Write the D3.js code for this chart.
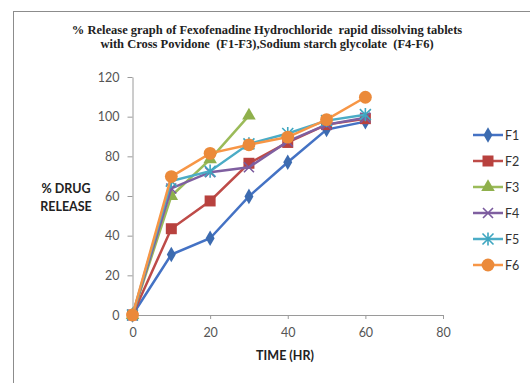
<!DOCTYPE html>
<html>
<head>
<meta charset="utf-8">
<script src="https://cdn.jsdelivr.net/npm/d3@7"></script>
<style>
  body { margin: 0; background: #fff; }
  svg { display: block; }
</style>
</head>
<body>
<div id="chart"></div>
<script>
// time points (hr)
const times = [0, 10, 20, 30, 40, 50, 60];
const seriesNames = ["F1", "F2", "F3", "F4", "F5", "F6"];
const f1 = [0, 30.5, 38.7, 59.8, 77, 93.5, 97.5];
const f2 = [0, 43.5, 57.5, 76.5, 87, 96, 99];
const f3 = [0, 60, 78.5, 100.5];
const f4 = [0, 63.8, 72, 74.5, 87.5, 96, 99.5];
const f5 = [0, 67.5, 72.5, 86.3, 91.5, 98, 101];
const f6 = [0, 69.8, 81.5, 85.8, 89.7, 98.5, 109.8];
const colors = ["#4472c4", "#be4b48", "#9bbb59", "#7f5fa0", "#4bacc6", "#f79646"];
const colorsDark = ["#3c6bb0", "#b8413e", "#8fb04c", "#7a5a9e", "#3ea6c0", "#eb8a3a"];
const symbols = ["diamond", "square", "triangle", "x", "star", "circle"];
const xTicks = [0, 20, 40, 60, 80];
const yTicks = [0, 20, 40, 60, 80, 100, 120];

const allValues = [f1, f2, f3, f4, f5, f6];

const width = 530, height = 383;
const svg = d3.select("#chart").append("svg")
    .attr("width", width)
    .attr("height", height);

// outer chart frame (runs off the right/bottom edge)
svg.append("rect")
    .attr("x", 13.5).attr("y", 11.5)
    .attr("width", 530).attr("height", 400)
    .attr("fill", "none")
    .attr("stroke", "#8c8c8c")
    .attr("stroke-width", 1);

// title
const title = svg.append("text")
    .attr("text-anchor", "middle")
    .attr("xml:space", "preserve")
    .style("white-space", "pre")
    .style("font-family", "'Liberation Serif', 'Times New Roman', serif")
    .style("font-weight", "bold")
    .style("font-size", "12.5px")
    .attr("fill", "#222");
title.append("tspan").attr("x", 267).attr("y", 34)
    .text("% Release graph of Fexofenadine Hydrochloride  rapid dissolving tablets");
title.append("tspan").attr("x", 267).attr("y", 48)
    .text("with Cross Povidone  (F1-F3),Sodium starch glycolate  (F4-F6)");

const x = d3.scaleLinear().domain([0, 80]).range([132.5, 443]);
const y = d3.scaleLinear().domain([0, 120]).range([315, 77]);

const font = "Lato, 'Open Sans', sans-serif";

// x axis
const xAxis = svg.append("g")
    .attr("transform", `translate(0,${y(0)})`)
    .call(d3.axisBottom(x).tickValues(xTicks).tickSize(4).tickSizeOuter(0));
xAxis.select(".domain").attr("stroke", "#9a9a9a");
xAxis.selectAll(".tick line").attr("stroke", "#9a9a9a");
xAxis.selectAll(".tick text")
    .attr("dy", "1.2em")
    .style("font-family", font).style("font-size", "12.5px").attr("fill", "#555");

// y axis
const yAxis = svg.append("g")
    .attr("transform", `translate(${x(0)},0)`)
    .call(d3.axisLeft(y).tickValues(yTicks).tickSize(5).tickSizeOuter(0));
yAxis.select(".domain").attr("stroke", "#9a9a9a");
yAxis.selectAll(".tick line").attr("stroke", "#9a9a9a");
yAxis.selectAll(".tick text")
    .attr("x", -13)
    .style("font-family", font).style("font-size", "12.5px").attr("fill", "#555");

// axis titles
svg.append("text")
    .attr("x", 285).attr("y", 360)
    .attr("text-anchor", "middle")
    .style("font-family", font).style("font-weight", "bold").style("font-size", "12.5px")
    .attr("fill", "#222")
    .text("TIME (HR)");

const yt = svg.append("text")
    .attr("text-anchor", "middle")
    .style("font-family", font).style("font-weight", "bold").style("font-size", "12.5px")
    .attr("fill", "#222");
yt.append("tspan").attr("x", 66).attr("y", 193).text("% DRUG");
yt.append("tspan").attr("x", 66).attr("y", 211).text("RELEASE");

// marker drawing
function drawMarker(g, type, color, size) {
    if (type === "x") {
        const s = size * 0.5;
        g.append("path")
            .attr("d", `M${-s},${-s}L${s},${s}M${-s},${s}L${s},${-s}`)
            .attr("stroke", color).attr("stroke-width", 1.6).attr("fill", "none");
    } else if (type === "star") {
        const s = size * 0.55;
        g.append("path")
            .attr("d", `M${-s},${-s}L${s},${s}M${-s},${s}L${s},${-s}M0,${-s * 1.2}L0,${s * 1.2}`)
            .attr("stroke", color).attr("stroke-width", 1.6).attr("fill", "none");
    } else {
        const sym = {
            diamond: d3.symbolDiamond,
            square: d3.symbolSquare,
            triangle: d3.symbolTriangle,
            circle: d3.symbolCircle
        }[type];
        const area = {diamond: size * size * 0.7, square: size * size * 1.0, triangle: size * size * 0.8, circle: size * size * 0.9}[type];
        g.append("path")
            .attr("d", d3.symbol().type(sym).size(area)())
            .attr("fill", color);
    }
}

const line = d3.line()
    .x((d, i) => x(times[i]))
    .y(d => y(d));

allValues.forEach((vals, k) => {
    const g = svg.append("g");
    g.append("path")
        .datum(vals)
        .attr("d", line)
        .attr("fill", "none")
        .attr("stroke", colors[k])
        .attr("stroke-width", 2.5);
    vals.forEach((v, i) => {
        const m = g.append("g").attr("transform", `translate(${x(times[i])},${y(v)})`);
        drawMarker(m, symbols[k], colorsDark[k], k === 5 ? 12 : (k === 1 ? 11 : 10));
    });
});

// legend
const legend = svg.append("g");
seriesNames.forEach((name, k) => {
    const ly = 135 + k * 26;
    const lg = legend.append("g");
    lg.append("line")
        .attr("x1", 473).attr("x2", 503)
        .attr("y1", ly).attr("y2", ly)
        .attr("stroke", colors[k]).attr("stroke-width", 2.5);
    const m = lg.append("g").attr("transform", `translate(488,${ly})`);
    drawMarker(m, symbols[k], colorsDark[k], k === 5 ? 12 : (k === 1 ? 11 : 10));
    lg.append("text")
        .attr("x", 505).attr("y", ly).attr("dy", "0.36em")
        .style("font-family", font).style("font-size", "12.5px")
        .attr("fill", "#333")
        .text(name);
});
</script>
</body>
</html>
